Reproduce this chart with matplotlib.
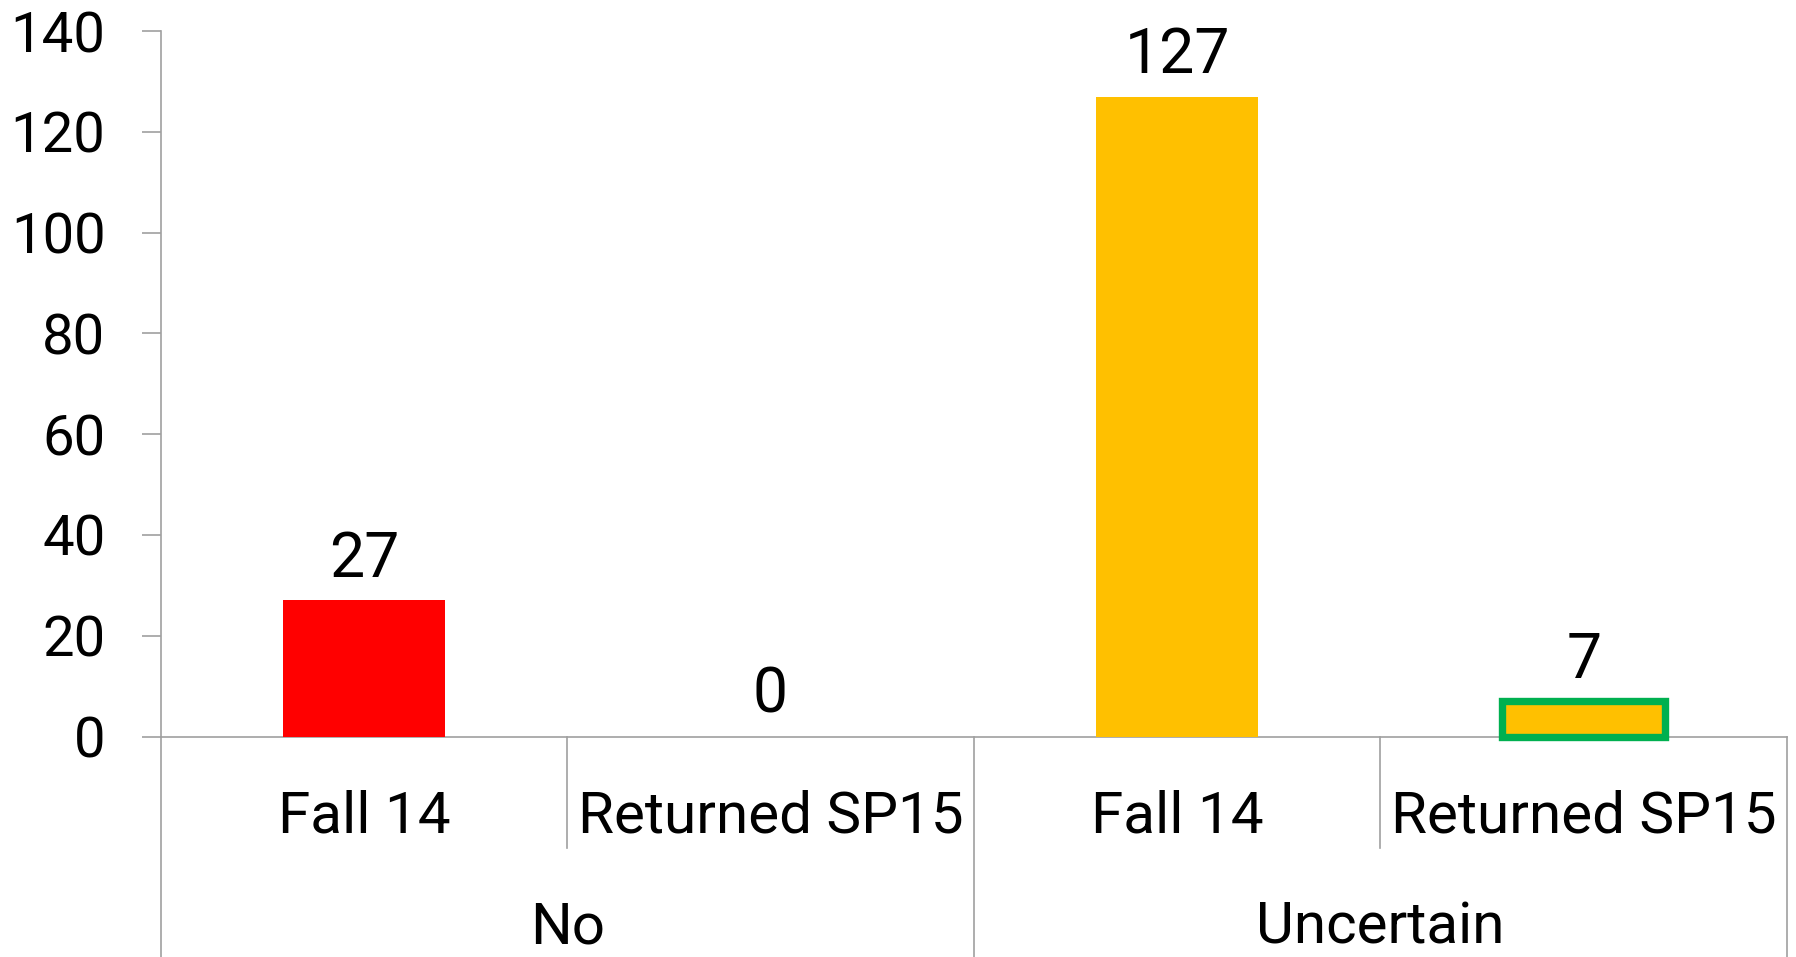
import matplotlib.pyplot as plt

plt.rcParams['font.family'] = ['Roboto', 'DejaVu Sans']

categories = ['Fall 14', 'Returned SP15', 'Fall 14', 'Returned SP15']
groups = ['No', 'Uncertain']
values = [27, 0, 127, 7]
bar_colors = ['#FF0000', '#FFC000', '#FFC000', '#FFC000']
edge_colors = ['none', 'none', 'none', '#00B050']
y_ticks = [0, 20, 40, 60, 80, 100, 120, 140]

axis_grey = '#A0A0A0'

fig = plt.figure(figsize=(17.96, 9.57), dpi=100)
ax = fig.add_axes([0.0894, 0.2304, 0.9056, 0.7372])

x = list(range(len(values)))
bars = ax.bar(x, values, width=0.4, color=bar_colors, edgecolor=edge_colors,
              linewidth=[0, 0, 0, 5.3], zorder=3)
for b in bars:
    b.set_clip_on(False)

for xi, v in zip(x, values):
    ax.annotate(str(v), (xi, v), xytext=(0, 17), textcoords='offset points',
                ha='center', va='baseline', fontsize=45)

ax.set_xlim(-0.5, len(values) - 0.5)
ax.set_ylim(0, 140)
ax.set_yticks(y_ticks)
ax.set_xticks([])
ax.tick_params(axis='y', labelsize=40.5, length=13.7, width=1.2, color=axis_grey, pad=26)

for s in ['top', 'right']:
    ax.spines[s].set_visible(False)
for s in ['left', 'bottom']:
    ax.spines[s].set_color(axis_grey)
    ax.spines[s].set_linewidth(1.2)

# category separators below the axis
tr = ax.get_xaxis_transform()
for xs in [0.5, 2.5]:
    ax.plot([xs, xs], [0, -0.158], transform=tr, color=axis_grey, lw=1.2, clip_on=False)
for xs in [-0.5, 1.5, 3.5]:
    ax.plot([xs, xs], [0, -0.35], transform=tr, color=axis_grey, lw=1.2, clip_on=False)

for xi, lab in zip(x, categories):
    ax.text(xi, -0.114, lab, transform=tr, ha='center', va='center', fontsize=42)

for gi, g in enumerate(groups):
    ax.text(gi * 2 + 0.5, -0.271, g, transform=tr, ha='center', va='center', fontsize=42)

fig.savefig('out.png', dpi=100)
